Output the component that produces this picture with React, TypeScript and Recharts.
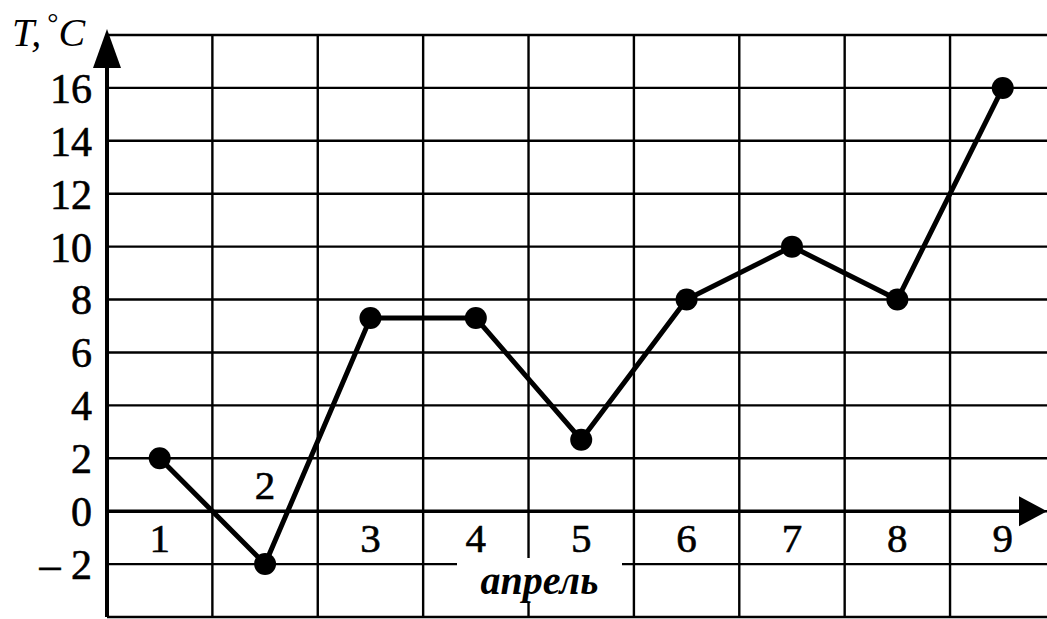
import React from "react";
import {
  LineChart,
  Line,
  XAxis,
  YAxis,
  CartesianGrid,
  ReferenceLine,
  ReferenceDot,
} from "recharts";

// April days and temperature
const days = [1, 2, 3, 4, 5, 6, 7, 8, 9];
const temps = [2, -2, 7.3, 7.3, 2.7, 8, 10, 8, 16];

const yTicks = [-2, 0, 2, 4, 6, 8, 10, 12, 14, 16];
const gridRows = [-4, -2, 0, 2, 4, 6, 8, 10, 12, 14, 16, 18];
const gridCols = [1.5, 2.5, 3.5, 4.5, 5.5, 6.5, 7.5, 8.5];
const labelsAbove = [2];

const data = days.map((day, i) => ({ day, temp: temps[i] }));

const FONT = "'Liberation Serif', 'Times New Roman', serif";

const formatY = (v: number) => (v < 0 ? `– ${Math.abs(v)}` : `${v}`);

// vertical axis with arrowhead at the top
const YArrow = (props: any) => {
  const { x1, y1, y2 } = props;
  const top = Math.min(y1, y2);
  const bottom = Math.max(y1, y2);
  const tip = top - 6;
  return (
    <g>
      <line x1={x1} y1={bottom} x2={x1} y2={tip + 20} stroke="#000" strokeWidth={4} />
      <polygon points={`${x1},${tip} ${x1 - 14},${tip + 39} ${x1 + 14},${tip + 39}`} fill="#000" />
    </g>
  );
};

// horizontal axis with arrowhead at the right
const XArrow = (props: any) => {
  const { x1, x2, y1 } = props;
  const tip = Math.max(x1, x2);
  const left = Math.min(x1, x2);
  return (
    <g>
      <line x1={left} y1={y1} x2={tip - 15} y2={y1} stroke="#000" strokeWidth={3.5} />
      <polygon points={`${tip},${y1} ${tip - 28},${y1 - 15} ${tip - 28},${y1 + 15}`} fill="#000" />
    </g>
  );
};

const App: React.FC = () => {
  return (
    <div style={{ position: "absolute", left: 0, top: 0, width: 1047, height: 619, background: "#fff" }}>
      <LineChart width={1047} height={619} data={data} margin={{ top: 35, right: 0, bottom: 2, left: 0 }}>
        <CartesianGrid
          horizontalValues={gridRows}
          verticalValues={gridCols}
          stroke="#000"
          strokeWidth={2.4}
        />
        <XAxis type="number" dataKey="day" domain={[0.5, 9.42]} allowDataOverflow hide />
        <YAxis
          type="number"
          domain={[-4, 18]}
          ticks={yTicks}
          interval={0}
          width={107}
          axisLine={false}
          tickLine={false}
          tickSize={0}
          tickMargin={15}
          tickFormatter={formatY}
          tick={{ fill: "#000", fontSize: 42, fontFamily: FONT, stroke: "#000", strokeWidth: 0.6 }}
          label={{
            content: () => (
              <text x={12} y={46} fill="#000" fontFamily={FONT} fontSize={40} fontStyle="italic">
                T,
                <tspan dx={6} dy={-14} fontSize={28} fontStyle="normal">°</tspan>
                <tspan dy={14}>C</tspan>
              </text>
            ),
          }}
        />
        <ReferenceLine x={0.5} shape={<YArrow />} ifOverflow="visible" />
        <ReferenceLine y={0} shape={<XArrow />} ifOverflow="visible" />
        {days.map((d) => (
          <ReferenceDot
            key={d}
            x={d}
            y={0}
            r={1}
            fill="none"
            stroke="none"
            label={{
              value: d,
              position: labelsAbove.includes(d) ? "top" : "bottom",
              offset: 11,
              fill: "#000",
              stroke: "#000",
              strokeWidth: 0.6,
              fontSize: 41,
              fontFamily: FONT,
            }}
          />
        ))}
        <Line
          type="linear"
          dataKey="temp"
          stroke="#000"
          strokeWidth={5}
          dot={{ r: 11, fill: "#000", stroke: "none" }}
          activeDot={false}
          isAnimationActive={false}
        />
      </LineChart>
      <div
        style={{
          position: "absolute",
          left: 457,
          top: 558,
          width: 165,
          height: 45,
          background: "#fff",
          display: "flex",
          alignItems: "center",
          justifyContent: "center",
          fontFamily: FONT,
          fontStyle: "italic",
          fontWeight: "bold",
          fontSize: 40,
          lineHeight: "40px",
          color: "#000",
        }}
      >
        апрель
      </div>
    </div>
  );
};

export default App;
